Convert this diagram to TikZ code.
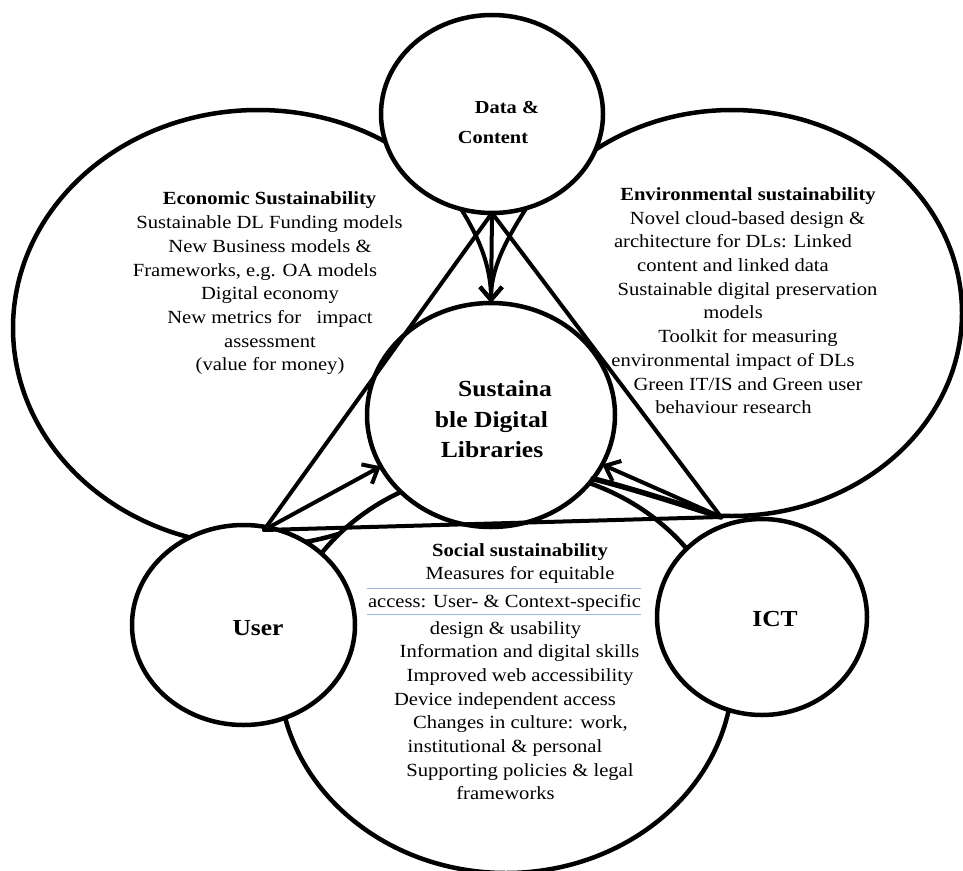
\documentclass[tikz,border=0pt]{standalone}
\usepackage{fontspec}
\setmainfont{Liberation Serif}
\usepackage{graphicx}
\usetikzlibrary{shapes.geometric,arrows.meta}

% text is set slightly flattened, as in the printed figure
\newcommand\vsq[1]{\scalebox{1}[0.9]{#1}}
\definecolor{rulecol}{RGB}{155,185,225}

\tikzset{
  outline/.style={ellipse, draw, line width=4.5pt, inner sep=0pt, outer sep=0pt},
  ring/.style={outline, fill=white},
  link/.style={line width=4pt, line cap=round, line join=round},
  arr/.style={link, -{Straight Barb[length=13pt,width=22pt]}},
  body/.style={font=\fontsize{20.6}{24}\selectfont, inner sep=0pt, anchor=base},
  head/.style={body, font=\fontsize{20.6}{24}\selectfont\bfseries},
  hub/.style={body, font=\fontsize{25.6}{30}\selectfont\bfseries},
  rulebar/.style={draw=rulecol, line width=1pt}
}

\begin{document}
\begin{tikzpicture}[x=1pt,y=-1pt]
\useasboundingbox (0,0) rectangle (963,870);

% the two large outer domains
\node[outline, minimum width=490pt, minimum height=436pt] (econ) at (258,328) {};
\node[outline, minimum width=460pt, minimum height=406pt] (env) at (732,313) {};
% the domains stay behind the area under data & content
\fill[white] (445,190) rectangle (540,255);

% data & content
\node[ring, minimum width=222pt, minimum height=198pt] (data) at (492,114) {};

% corners of the triangle
\coordinate (apex) at (data.south);
\coordinate (upt) at (264,530);
\coordinate (ipt) at (721,517);
\fill[white] (apex) -- (upt) -- (ipt) -- cycle;

% social domain and the core
\node[ring, minimum width=454pt, minimum height=404pt] (social) at (506,671) {};
\node[ring, minimum width=248pt, minimum height=224pt] (core) at (491,415) {};

% user and ICT
\node[ring, minimum width=223pt, minimum height=200pt] (user) at (243.5,625) {};
\node[ring, minimum width=210pt, minimum height=196pt] (ict) at (762,617) {};

% triangle
\draw[link] (apex) -- (upt) -- (ipt) -- cycle;

% arrows into the core
\draw[arr] (data.south) -- (core.north);
\draw[arr] (data.252) .. controls (478,236) and (491,265) .. (core.north);
\draw[arr] (data.290) .. controls (510,234) and (491,265) .. (core.north);
\draw[arr] (upt) -- (core.205);
\draw[arr] (ipt) -- (core.-24);
\draw[line width=5.5pt, line cap=round] (ipt) .. controls (680,504) and (630,488) .. (core.-32);

% data & content label
\node[head, font=\fontsize{20.4}{24}\selectfont\bfseries] (d1) at (507,113) {\vsq{Data \&}};
\node[head, font=\fontsize{20.4}{24}\selectfont\bfseries] (d2) at (493,143.5) {\vsq{Content}};

% core label
\node[hub] (c1) at (505,396) {\vsq{Sustaina}};
\node[hub] (c2) at (491.5,427) {\vsq{ble Digital}};
\node[hub] (c3) at (492,457) {\vsq{Libraries}};

% user and ICT labels
\node[hub, font=\fontsize{25.5}{30}\selectfont\bfseries] (u1) at (258,635) {\vsq{User}};
\node[hub, font=\fontsize{25.5}{30}\selectfont\bfseries] (i1) at (775,626) {\vsq{ICT}};

% economic sustainability
\node[head] (e0) at (269.5,204.5) {\vsq{Economic Sustainability}};
\node[body] (e1) at (269.5,228.5) {\vsq{Sustainable DL Funding models}};
\node[body] (e2) at (270,252.5) {\vsq{New Business models \&}};
\node[body] (e3) at (255,276.5) {\vsq{Frameworks, e.g. OA models}};
\node[body] (e4) at (270,299.5) {\vsq{Digital economy}};
\node[body] (e5) at (270,323.5) {\vsq{New metrics for~~~impact}};
\node[body] (e6) at (270,347.5) {\vsq{assessment}};
\node[body] (e7) at (270,370.5) {\vsq{(value for money)}};

% environmental sustainability
\node[head] (v0) at (748,200) {\vsq{Environmental sustainability}};
\node[body] (v1) at (747.5,224) {\vsq{Novel cloud-based design \&}};
\node[body] (v2) at (733,247.5) {\vsq{architecture for DLs: Linked}};
\node[body] (v3) at (733,271) {\vsq{content and linked data}};
\node[body] (v4) at (747.5,295) {\vsq{Sustainable digital preservation}};
\node[body] (v5) at (733,318.5) {\vsq{models}};
\node[body] (v6) at (748,342) {\vsq{Toolkit for measuring}};
\node[body] (v7) at (733,366) {\vsq{environmental impact of DLs}};
\node[body] (v8) at (748,390) {\vsq{Green IT/IS and Green user}};
\node[body] (v9) at (733.5,413.5) {\vsq{behaviour research}};

% social sustainability
\node[head] (s0) at (520,556.5) {\vsq{Social sustainability}};
\node[body] (s1) at (520,579) {\vsq{Measures for equitable}};
\draw[rulebar] (367,588) -- (641,588);
\node[body] (s2) at (504.5,607.5) {\vsq{access: User- \& Context-specific}};
\draw[rulebar] (367,614) -- (641,614);
\node[body] (s3) at (505.5,634) {\vsq{design \& usability}};
\node[body] (s4) at (519.5,657.5) {\vsq{Information and digital skills}};
\node[body] (s5) at (520,681.5) {\vsq{Improved web accessibility}};
\node[body] (s6) at (505,705) {\vsq{Device independent access}};
\node[body] (s7) at (520.5,728.5) {\vsq{Changes in culture: work,}};
\node[body] (s8) at (505,752.5) {\vsq{institutional \& personal}};
\node[body] (s9) at (520,776) {\vsq{Supporting policies \& legal}};
\node[body] (s10) at (505.5,799.5) {\vsq{frameworks}};

\end{tikzpicture}
\end{document}
